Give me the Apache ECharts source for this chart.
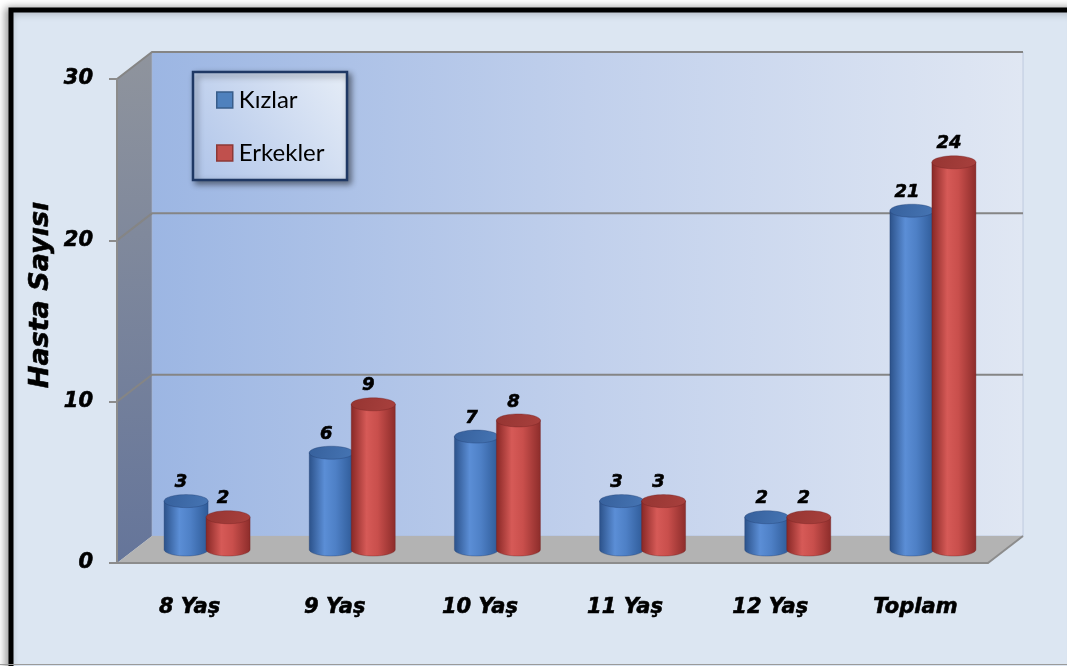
<!DOCTYPE html>
<html>
<head>
<meta charset="utf-8">
<script src="https://cdn.jsdelivr.net/npm/echarts@6/dist/echarts.min.js"></script>
<style>
  html, body { margin: 0; padding: 0; background: #ffffff; }
  #chart { width: 1067px; height: 666px; }
</style>
</head>
<body>
<div id="chart"></div>
<script>
// Patients per age group, girls vs boys
const categories = ['8 Yaş', '9 Yaş', '10 Yaş', '11 Yaş', '12 Yaş', 'Toplam'];
const kizlar = [3, 6, 7, 3, 2, 21];
const erkekler = [2, 9, 8, 3, 2, 24];
const yTicks = [0, 10, 20, 30];
const seriesNames = ['Kızlar', 'Erkekler'];
const axisTitle = 'Hasta Sayısı';

// depth of the 3D box (offset of the back wall from the front plane)
const DX = 35, DY = -27;
// cylinder geometry
const RX = 22, RY = 6.5, OFF = 21;

const LG = echarts.graphic.LinearGradient;
const BOLD_IT = '"DejaVu Sans"';

const palettes = {
  blue: {
    body: [
      { offset: 0, color: '#2b5189' },
      { offset: 0.35, color: '#5b8ed6' },
      { offset: 0.6, color: '#4e80c6' },
      { offset: 1, color: '#2e5a97' }
    ],
    top: ['#36609c', '#4675b4'],
    edge: 'rgba(30,60,110,0.6)'
  },
  red: {
    body: [
      { offset: 0, color: '#872725' },
      { offset: 0.35, color: '#d65a57' },
      { offset: 0.6, color: '#c94f4c' },
      { offset: 1, color: '#8c2c2a' }
    ],
    top: ['#963532', '#a8403d'],
    edge: 'rgba(110,30,30,0.6)'
  }
};

function arcPoints(cx, cy, a0, a1, n) {
  const pts = [];
  for (let k = 0; k <= n; k++) {
    const t = a0 + (a1 - a0) * k / n;
    pts.push([cx + RX * Math.cos(t), cy + RY * Math.sin(t)]);
  }
  return pts;
}

// side wall, back wall, floor and gridlines of the 3D box
function renderFrame(params, api) {
  const band = api.size([1, 0])[0];
  const last = categories.length - 1;
  const yMax = yTicks[yTicks.length - 1];
  const x0 = api.coord([0, 0])[0] - band / 2;
  const x1 = api.coord([last, 0])[0] + band / 2;
  const yb = api.coord([0, 0])[1];
  const yt = api.coord([0, yMax])[1];
  const children = [];
  children.push({
    type: 'polygon',
    shape: { points: [[x0, yt], [x0 + DX, yt + DY], [x0 + DX, yb + DY], [x0, yb]] },
    style: { fill: new LG(0, 0, 0, 1, [{ offset: 0, color: '#8f949d' }, { offset: 1, color: '#65759a' }]) }
  });
  children.push({
    type: 'rect',
    shape: { x: x0 + DX, y: yt + DY, width: x1 - x0, height: yb - yt },
    style: {
      fill: new LG(0, 0, 1, 0, [
        { offset: 0, color: '#9cb6e3' },
        { offset: 0.5, color: '#c1d0ec' },
        { offset: 1, color: '#e0e7f3' }
      ]),
      stroke: 'rgba(170,185,210,0.6)', lineWidth: 1
    }
  });
  children.push({
    type: 'polygon',
    shape: { points: [[x0, yb], [x0 + DX, yb + DY], [x1 + DX, yb + DY], [x1, yb]] },
    style: { fill: '#b3b3b3' }
  });
  children.push({
    type: 'line',
    shape: { x1: x1, y1: yb, x2: x1 + DX, y2: yb + DY },
    style: { stroke: '#8c8c8c', lineWidth: 2 }
  });
  yTicks.forEach(function (v) {
    if (v === 0) return;
    const y = api.coord([0, v])[1];
    children.push({
      type: 'polyline',
      shape: { points: [[x0, y], [x0 + DX, y + DY], [x1 + DX, y + DY]] },
      style: { stroke: '#858585', lineWidth: 2, fill: null }
    });
  });
  return { type: 'group', children: children };
}

// cylinder bar; side -1 = left of the category centre, +1 = right
function makeCylinder(side, pal) {
  return function (params, api) {
    const i = api.value(0), v = api.value(1);
    const base = api.coord([i, 0]);
    const top = api.coord([i, v]);
    const cx = base[0] + DX / 2 + side * OFF;
    const by = base[1] + DY / 2;
    const ty = top[1] + DY / 2;
    const l = cx - RX, r = cx + RX;
    const body = [[l, ty]].concat(arcPoints(cx, by, Math.PI, 0, 32)).concat([[r, ty]]);
    const cap = arcPoints(cx, ty, 0, Math.PI * 2, 48);
    return {
      type: 'group',
      children: [
        {
          type: 'polygon',
          shape: { points: body },
          style: { fill: new LG(0, 0, 1, 0, pal.body), stroke: pal.edge, lineWidth: 0.6 }
        },
        {
          type: 'polygon',
          shape: { points: cap },
          style: { fill: new LG(0, 0, 1, 1, [{ offset: 0, color: pal.top[0] }, { offset: 1, color: pal.top[1] }]), stroke: pal.edge, lineWidth: 0.6 }
        },
        {
          type: 'text',
          style: {
            text: String(v),
            x: cx - 5,
            y: ty - RY - 3,
            align: 'center',
            verticalAlign: 'bottom',
            fontFamily: BOLD_IT,
            fontStyle: 'italic',
            fontWeight: 'bold',
            fontSize: 18,
            fill: '#000000',
            stroke: '#000000',
            lineWidth: 0.6
          }
        }
      ]
    };
  };
}

const chart = echarts.init(document.getElementById('chart'), null, { renderer: 'canvas' });

chart.setOption({
  backgroundColor: '#ffffff',
  animation: false,
  graphic: [
    {
      type: 'rect',
      z: -10,
      shape: { x: 11, y: 10, width: 1070, height: 700 },
      style: {
        fill: '#dce6f2', stroke: '#000000', lineWidth: 5,
        shadowBlur: 8, shadowColor: 'rgba(0,0,0,0.35)', shadowOffsetX: -3, shadowOffsetY: 0
      }
    },
    {
      type: 'rect',
      z: -9,
      shape: { x: 0, y: 664, width: 1067, height: 1 },
      style: { fill: '#9a9a9a' }
    },
    {
      type: 'rect',
      z: 3,
      shape: { x: 193, y: 72, width: 154, height: 108 },
      style: {
        fill: new LG(0, 1, 1, 0, [{ offset: 0, color: '#afc4e9' }, { offset: 1, color: '#e6edf7' }]),
        stroke: '#1f3864', lineWidth: 2.5,
        shadowBlur: 6, shadowColor: 'rgba(0,0,0,0.45)', shadowOffsetX: 3, shadowOffsetY: 3
      }
    },
    {
      type: 'text',
      z: 5,
      x: 41,
      y: 295,
      rotation: Math.PI / 2,
      style: {
        text: axisTitle,
        align: 'center',
        verticalAlign: 'middle',
        fontFamily: BOLD_IT,
        fontStyle: 'italic',
        fontWeight: 'bold',
        fontSize: 27,
        fill: '#000000',
        stroke: '#000000',
        lineWidth: 0.6
      }
    }
  ],
  legend: {
    orient: 'vertical',
    left: 216,
    top: 87,
    padding: 0,
    itemGap: 27,
    itemWidth: 16,
    itemHeight: 16,
    icon: 'rect',
    z: 6,
    textStyle: { fontFamily: 'Lato', fontSize: 24, lineHeight: 26, color: '#000000', padding: [0, 0, 0, 1] },
    data: [
      { name: seriesNames[0], itemStyle: { color: '#4f81bd', borderColor: '#385d8a', borderWidth: 1.5 } },
      { name: seriesNames[1], itemStyle: { color: '#c0504d', borderColor: '#8c3836', borderWidth: 1.5 } }
    ]
  },
  grid: { left: 117, right: 79, top: 79, bottom: 103, containLabel: false },
  xAxis: {
    type: 'category',
    data: categories,
    z: 5,
    axisLine: { lineStyle: { color: '#8c8c8c', width: 2 } },
    axisTick: { length: 10, lineStyle: { color: '#8c8c8c', width: 2 } },
    axisLabel: {
      margin: 34,
      fontFamily: BOLD_IT, fontStyle: 'italic', fontWeight: 'bold', fontSize: 21, color: '#000000',
      textBorderColor: '#000000', textBorderWidth: 0.6
    },
    splitLine: { show: false }
  },
  yAxis: {
    type: 'value',
    min: yTicks[0],
    max: yTicks[yTicks.length - 1],
    interval: 10,
    z: 5,
    axisLine: { show: true, lineStyle: { color: '#8c8c8c', width: 2 } },
    axisTick: { show: true, length: 8, lineStyle: { color: '#8c8c8c', width: 2 } },
    axisLabel: {
      margin: 24,
      fontFamily: BOLD_IT, fontStyle: 'italic', fontWeight: 'bold', fontSize: 21, color: '#000000',
      textBorderColor: '#000000', textBorderWidth: 0.6
    },
    splitLine: { show: false }
  },
  series: [
    {
      name: 'box',
      type: 'custom',
      z: 1,
      silent: true,
      renderItem: renderFrame,
      encode: { x: 0, y: 1 },
      data: [[0, 0]]
    },
    {
      name: seriesNames[0],
      type: 'custom',
      z: 2,
      itemStyle: { color: '#4f81bd' },
      renderItem: makeCylinder(-1, palettes.blue),
      encode: { x: 0, y: 1 },
      data: kizlar.map(function (v, i) { return [i, v]; })
    },
    {
      name: seriesNames[1],
      type: 'custom',
      z: 2,
      itemStyle: { color: '#c0504d' },
      renderItem: makeCylinder(1, palettes.red),
      encode: { x: 0, y: 1 },
      data: erkekler.map(function (v, i) { return [i, v]; })
    }
  ]
});
</script>
</body>
</html>
